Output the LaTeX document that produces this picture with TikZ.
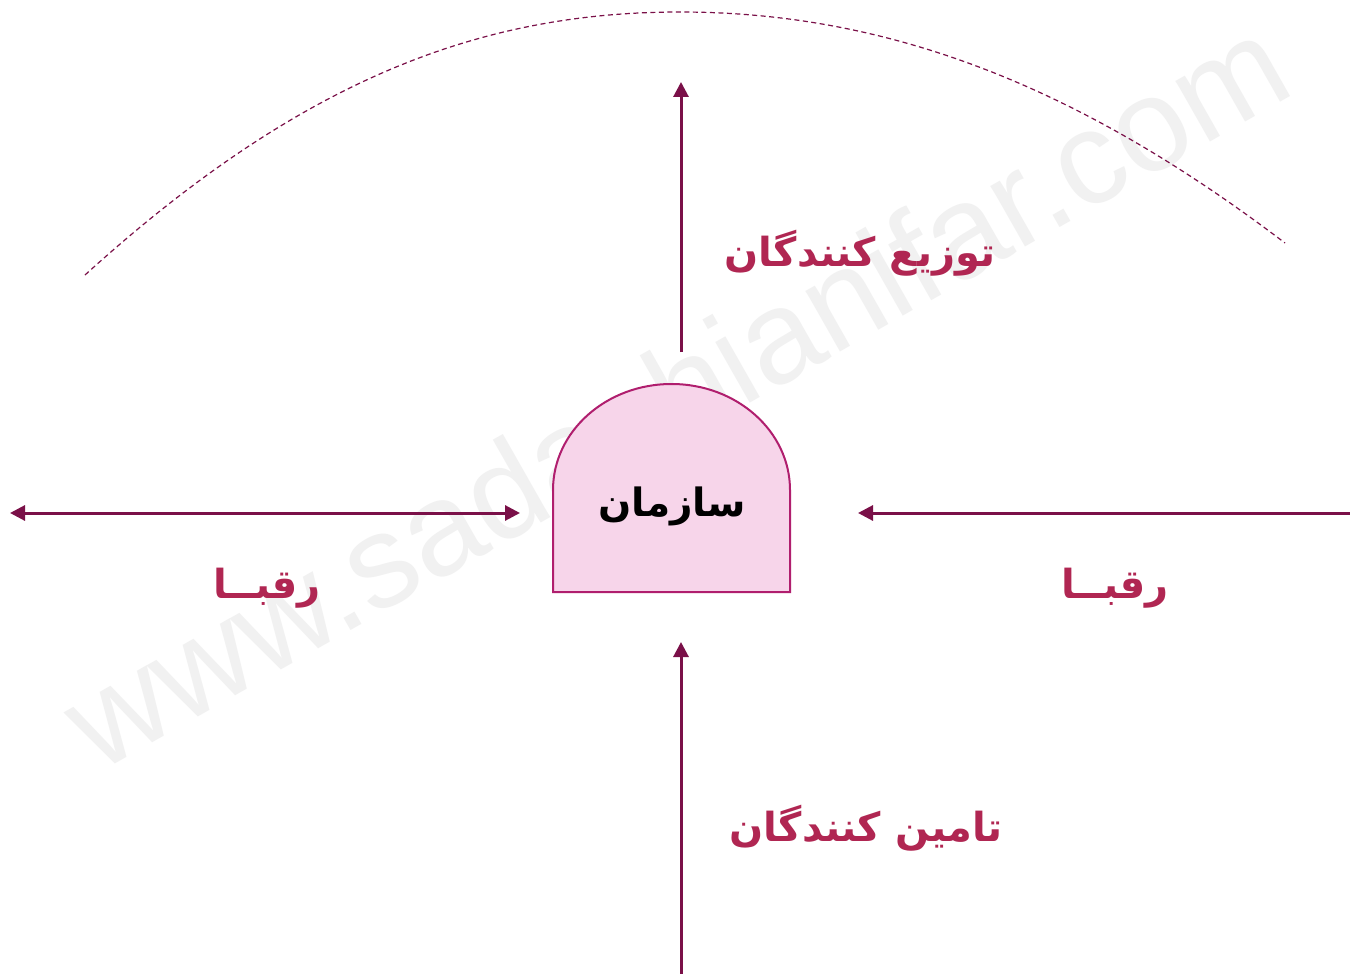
\documentclass[tikz,border=0pt]{standalone}
\usepackage{fontspec}
\usetikzlibrary{arrows.meta}
\TeXXeTstate=1
\newfontfamily\arabicfont[Script=Arabic]{DejaVu Sans}
\newfontfamily\wmfont{Liberation Sans}
\definecolor{arrowc}{RGB}{122,16,72}
\definecolor{labelc}{RGB}{176,38,82}
\definecolor{boxline}{RGB}{176,30,110}
\definecolor{boxfill}{RGB}{247,213,234}
\definecolor{wmc}{RGB}{241,241,241}
\tikzset{
  arr/.style={draw=arrowc, line width=3pt, -{Triangle[length=15pt,width=15pt]}},
  darr/.style={draw=arrowc, line width=3pt, {Triangle[length=15pt,width=15pt]}-{Triangle[length=15pt,width=15pt]}},
  dasharc/.style={draw=arrowc, line width=1.2pt, dash pattern=on 5pt off 3.5pt},
  orgbox/.style={draw=boxline, fill=boxfill, line width=2pt},
  lbl/.style={text=labelc, font=\arabicfont\bfseries\fontsize{40}{48}\selectfont, inner sep=0pt},
  orglbl/.style={text=black, font=\arabicfont\bfseries\fontsize{39}{46}\selectfont, inner sep=0pt},
  wm/.style={text=wmc, font=\wmfont\fontsize{132}{140}\selectfont, rotate=29.6, inner sep=0pt}
}
\begin{document}
\begin{tikzpicture}[x=1pt,y=-1pt]
\useasboundingbox (0,0) rectangle (1350,974);
\fill[white] (0,0) rectangle (1350,974);
% watermark
\node[wm] (wmark) at (675,392) {www.sadashianifar.com};
% dashed arc
\coordinate (arcL) at (85,275);
\coordinate (arcT) at (680,12);
\coordinate (arcR) at (1285,243);
\draw[dasharc] (arcL) .. controls (300,80) and (480,12) .. (arcT) .. controls (900,12) and (1090,95) .. (arcR);
% organisation box
\draw[orgbox] (553,592) -- (553,490) arc[start angle=180, end angle=360, x radius=118.5, y radius=106] -- (790,592) -- cycle;
\node[orglbl] (org) at (672,506) {\beginR سازمان\endR};
% arrows
\coordinate (topS) at (681,352);
\coordinate (topE) at (681,82);
\coordinate (botS) at (681,974);
\coordinate (botE) at (681,642);
\coordinate (leftA) at (10,513);
\coordinate (leftB) at (520,513);
\coordinate (rightS) at (1350,513);
\coordinate (rightE) at (858,513);
\draw[arr] (topS) -- (topE);
\draw[arr] (botS) -- (botE);
\draw[darr] (leftA) -- (leftB);
\draw[arr] (rightS) -- (rightE);
% labels
\node[lbl] (dist) at (860,253) {\beginR توزیع کنندگان\endR};
\node[lbl] (supp) at (866,828) {\beginR تامین کنندگان\endR};
\node[lbl] (compL) at (267,588) {\beginR رقبــا\endR};
\node[lbl] (compR) at (1115,588) {\beginR رقبــا\endR};
\end{tikzpicture}
\end{document}
